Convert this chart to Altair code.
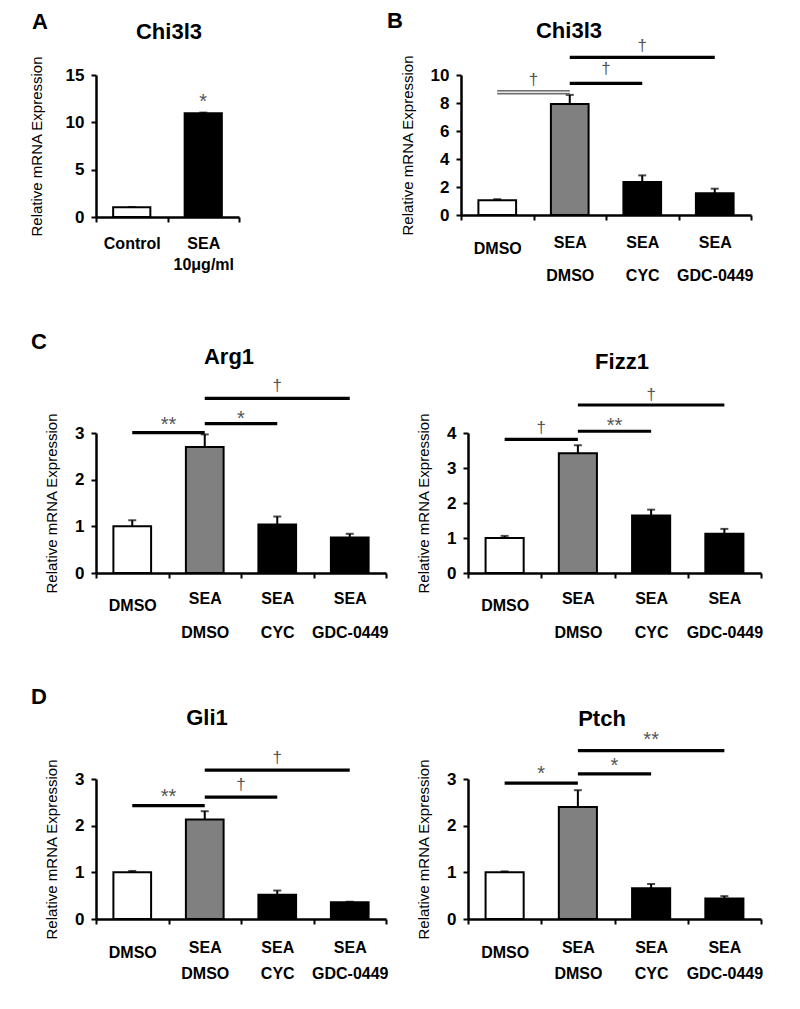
import altair as alt
import pandas as pd

FONT = "Liberation Sans"
YTITLE = "Relative mRNA Expression"

GROUPS4 = ["DMSO", "SEA|DMSO", "SEA|CYC", "SEA|GDC-0449"]
FILLS4 = ["white", "#808080", "black", "black"]

# ---- Panel A: Chi3l3 ----
a_groups = ["Control", "SEA|10μg/ml"]
a_fills = ["white", "black"]
a_means = [1.02, 10.95]
a_errs = [0.04, 0.08]
a_ticks = [0, 5, 10, 15]
a_sig_i0 = [1]
a_sig_i1 = [1]
a_sig_line = [12.0]
a_sig_sym = ["*"]
a_sig_sym_y = [12.8]
a_sig_style = ["none"]

# ---- Panel B: Chi3l3 ----
b_means = [1.05, 7.93, 2.35, 1.55]
b_errs = [0.08, 0.65, 0.48, 0.33]
b_ticks = [0, 2, 4, 6, 8, 10]
b_sig_i0 = [0, 1, 1]
b_sig_i1 = [1, 2, 3]
b_sig_line = [8.76, 9.4, 11.26]
b_sig_sym = ["†", "†", "†"]
b_sig_sym_y = [9.67, 10.43, 12.04]
b_sig_style = ["double", "solid", "solid"]

# ---- Panel C: Arg1 ----
arg_means = [1.0, 2.7, 1.04, 0.76]
arg_errs = [0.13, 0.27, 0.17, 0.08]
arg_ticks = [0, 1, 2, 3]
arg_sig_i0 = [0, 1, 1]
arg_sig_i1 = [1, 2, 3]
arg_sig_line = [3.01, 3.2, 3.74]
arg_sig_sym = ["**", "*", "†"]
arg_sig_sym_y = [3.3, 3.43, 4.0]
arg_sig_style = ["solid", "solid", "solid"]

# ---- Panel C: Fizz1 ----
fizz_means = [1.0, 3.42, 1.64, 1.12]
fizz_errs = [0.06, 0.23, 0.17, 0.14]
fizz_ticks = [0, 1, 2, 3, 4]
fizz_sig_i0 = [0, 1, 1]
fizz_sig_i1 = [1, 2, 3]
fizz_sig_line = [3.82, 4.05, 4.8]
fizz_sig_sym = ["†", "**", "†"]
fizz_sig_sym_y = [4.14, 4.37, 5.1]
fizz_sig_style = ["solid", "solid", "solid"]

# ---- Panel D: Gli1 ----
gli_means = [1.0, 2.13, 0.52, 0.36]
gli_errs = [0.03, 0.18, 0.09, 0.01]
gli_ticks = [0, 1, 2, 3]
gli_sig_i0 = [0, 1, 1]
gli_sig_i1 = [1, 2, 3]
gli_sig_line = [2.43, 2.61, 3.19]
gli_sig_sym = ["**", "†", "†"]
gli_sig_sym_y = [2.74, 2.88, 3.45]
gli_sig_style = ["solid", "solid", "solid"]

# ---- Panel D: Ptch ----
ptch_means = [1.0, 2.4, 0.66, 0.44]
ptch_errs = [0.02, 0.36, 0.09, 0.05]
ptch_ticks = [0, 1, 2, 3]
ptch_sig_i0 = [0, 1, 1]
ptch_sig_i1 = [1, 2, 3]
ptch_sig_line = [2.91, 3.11, 3.61]
ptch_sig_sym = ["*", "*", "**"]
ptch_sig_sym_y = [3.24, 3.41, 3.96]
ptch_sig_style = ["solid", "solid", "solid"]


def make_panel(title, groups, fills, means, errs, ticks,
               sig_i0, sig_i1, sig_line, sig_sym, sig_sym_y, sig_style,
               width, height, title_xy, letter=None, letter_xy=(0, 0),
               ytitle_x=-45, line_height=34, pad_first=9, pad_single=14):
    n = len(groups)
    df = pd.DataFrame({"group": groups, "mean": means, "err": errs, "fill": fills})
    sig = pd.DataFrame({"i0": sig_i0, "i1": sig_i1, "line": sig_line,
                        "sym": sig_sym, "sym_y": sig_sym_y, "style": sig_style})

    yscale = alt.Scale(domain=[0, ticks[-1]], nice=False, zero=True)
    xscale = alt.Scale(domain=groups, paddingInner=0, paddingOuter=0)
    xq = alt.Scale(domain=[0, n], nice=False, zero=False)

    xaxis = alt.Axis(
        title=None, labelExpr="split(datum.label, '|')", labelAngle=0,
        labelFont=FONT, labelFontSize=16, labelFontWeight="bold", labelColor="black",
        labelLineHeight=line_height, labelBaseline="top",
        labelPadding={"condition": {"test": "datum.value === 'DMSO'", "value": pad_single},
                      "value": pad_first},
        tickBand="extent", tickSize=5, tickWidth=2, tickColor="black",
        domainColor="black", domainWidth=2.5, grid=False)
    yaxis = alt.Axis(
        title=YTITLE, values=ticks, format="d",
        titleFont=FONT, titleFontSize=15, titleFontWeight="normal", titleColor="black",
        titleX=ytitle_x, titleY=height / 2, titleAngle=270, titleAlign="center",
        titleBaseline="middle",
        labelFont=FONT, labelFontSize=17, labelFontWeight="bold", labelColor="black",
        labelPadding=7, tickSize=5, tickWidth=2, tickColor="black",
        domainColor="black", domainWidth=2.5, grid=False)

    def Y(field):
        return alt.Y(field, scale=yscale, axis=yaxis, title=YTITLE)

    x = alt.X("group:N", scale=xscale, sort=groups, axis=xaxis)
    xn = alt.X("group:N", scale=xscale, sort=groups, axis=None)

    base = alt.Chart(df)
    bars = base.mark_bar(width=alt.RelativeBandSize(0.52), stroke="black", strokeWidth=2).encode(
        x=x, y=Y("mean:Q"), fill=alt.Fill("fill:N", scale=None))
    err = base.transform_calculate(top="datum.mean + datum.err").mark_rule(
        color="black", strokeWidth=2).encode(x=xn, y=Y("mean:Q"), y2="top:Q")
    cap = base.transform_calculate(top="datum.mean + datum.err").mark_tick(
        color="black", size=8, thickness=2).encode(x=xn, y=Y("top:Q"))

    sbase = alt.Chart(sig).transform_calculate(
        xa="datum.i0 + 0.5", xb="datum.i1 + 0.5", xm="(datum.i0 + datum.i1) / 2 + 0.5")
    solid = sbase.transform_filter("datum.style === 'solid'").mark_rule(
        color="black", strokeWidth=3.2).encode(
        x=alt.X("xa:Q", scale=xq, axis=None), x2="xb:Q", y=Y("line:Q"))
    dbl_out = sbase.transform_filter("datum.style === 'double'").mark_rule(
        color="#6e6e6e", strokeWidth=4.5).encode(
        x=alt.X("xa:Q", scale=xq, axis=None), x2="xb:Q", y=Y("line:Q"))
    dbl_in = sbase.transform_filter("datum.style === 'double'").mark_rule(
        color="#e6e6e6", strokeWidth=1.5).encode(
        x=alt.X("xa:Q", scale=xq, axis=None), x2="xb:Q", y=Y("line:Q"))
    stars = sbase.transform_filter("datum.sym !== '†'").mark_text(
        font=FONT, fontSize=20, color="#555555", baseline="middle", dy=6).encode(
        x=alt.X("xm:Q", scale=xq, axis=None), y=Y("sym_y:Q"), text="sym:N")
    daggers = sbase.transform_filter("datum.sym === '†'").mark_text(
        font=FONT, fontSize=17, color="#555555", baseline="middle").encode(
        x=alt.X("xm:Q", scale=xq, axis=None), y=Y("sym_y:Q"), text="sym:N")

    layers = [bars, err, cap, solid, dbl_out, dbl_in, stars, daggers]
    ttl = alt.Chart(pd.DataFrame({"t": [title]})).mark_text(
        font=FONT, fontSize=22, fontWeight="bold", color="black", baseline="middle").encode(
        x=alt.value(title_xy[0]), y=alt.value(title_xy[1]), text="t:N")
    layers.append(ttl)
    if letter:
        let = alt.Chart(pd.DataFrame({"t": [letter]})).mark_text(
            font=FONT, fontSize=22, fontWeight="bold", color="black", baseline="middle").encode(
            x=alt.value(letter_xy[0]), y=alt.value(letter_xy[1]), text="t:N")
        layers.append(let)
    return alt.layer(*layers).resolve_scale(x="independent").properties(width=width, height=height)


pA = make_panel("Chi3l3", a_groups, a_fills, a_means, a_errs, a_ticks,
                a_sig_i0, a_sig_i1, a_sig_line, a_sig_sym, a_sig_sym_y, a_sig_style,
                143, 142, (73, -43), "A", (-56, -53), ytitle_x=-60, line_height=21,
                pad_first=13, pad_single=13)
pB = make_panel("Chi3l3", GROUPS4, FILLS4, b_means, b_errs, b_ticks,
                b_sig_i0, b_sig_i1, b_sig_line, b_sig_sym, b_sig_sym_y, b_sig_style,
                290, 140, (108, -44), "B", (-66, -54), ytitle_x=-54, line_height=33,
                pad_first=14, pad_single=20)
pArg = make_panel("Arg1", GROUPS4, FILLS4, arg_means, arg_errs, arg_ticks,
                  arg_sig_i0, arg_sig_i1, arg_sig_line, arg_sig_sym, arg_sig_sym_y, arg_sig_style,
                  290, 140, (133, -76), "C", (-57, -91), ytitle_x=-45, line_height=34,
                  pad_first=12, pad_single=19)
pFizz = make_panel("Fizz1", GROUPS4, FILLS4, fizz_means, fizz_errs, fizz_ticks,
                   fizz_sig_i0, fizz_sig_i1, fizz_sig_line, fizz_sig_sym, fizz_sig_sym_y, fizz_sig_style,
                   293, 140, (154, -71), ytitle_x=-45, line_height=34,
                   pad_first=12, pad_single=19)
pGli = make_panel("Gli1", GROUPS4, FILLS4, gli_means, gli_errs, gli_ticks,
                  gli_sig_i0, gli_sig_i1, gli_sig_line, gli_sig_sym, gli_sig_sym_y, gli_sig_style,
                  290, 140, (111, -61), "D", (-57, -82), ytitle_x=-45, line_height=26,
                  pad_first=15, pad_single=20)
pPtch = make_panel("Ptch", GROUPS4, FILLS4, ptch_means, ptch_errs, ptch_ticks,
                   ptch_sig_i0, ptch_sig_i1, ptch_sig_line, ptch_sig_sym, ptch_sig_sym_y, ptch_sig_style,
                   293, 140, (134, -60), ytitle_x=-45, line_height=26,
                   pad_first=15, pad_single=20)

row1 = alt.hconcat(pA, pB, spacing=147)
row2 = alt.hconcat(pArg, pFizz, spacing=27)
row3 = alt.hconcat(pGli, pPtch, spacing=27)

chart = alt.vconcat(row1, alt.vconcat(row2, row3, spacing=46), spacing=48).properties(
    padding={"left": 21, "top": 2, "right": 5, "bottom": 5},
    background="white",
).configure_view(stroke=None)

chart.save("out.html", embed_options={"renderer": "svg", "actions": False})
